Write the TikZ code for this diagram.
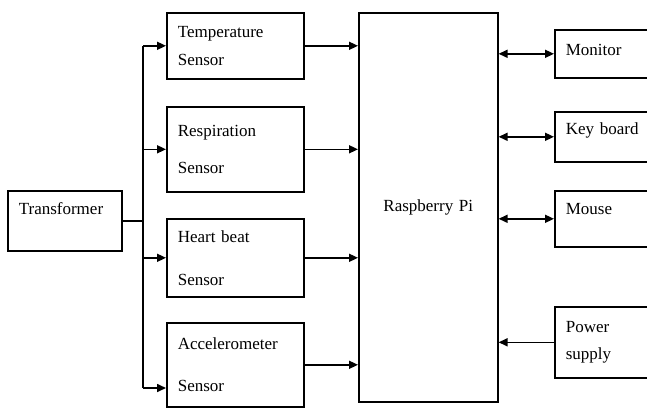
\documentclass[tikz,border=0pt]{standalone}
\usepackage{fontspec}
\setmainfont{Liberation Serif}
\usetikzlibrary{arrows.meta, positioning}

\begin{document}
\begin{tikzpicture}[x=1pt, y=-1pt, >={Triangle[length=9pt, width=8pt]}, line width=1.6pt,
    blk/.style={draw, anchor=north west, inner xsep=11pt, inner ysep=0pt, align=left, font=\fontsize{17}{20}\selectfont}]
    % Frame of the picture
    \clip (0,0) rectangle (647,407);
    \fill[white] (0,0) rectangle (647,407);

    % Supply and sensor blocks
    \node[blk, text width=92pt, minimum height=60pt, text height=12pt, text depth=24pt] (trans) at (7,190) {Transformer};
    \node[blk, text width=115pt, minimum height=66pt] (temp) at (166,12) {Temperature\\[8pt]Sensor};
    \node[blk, text width=115pt, minimum height=85pt] (resp) at (166,106) {Respiration\\[17pt]Sensor};
    \node[blk, text width=115pt, minimum height=78pt] (heart) at (166,218) {Heart beat\\[23pt]Sensor};
    \node[blk, text width=115pt, minimum height=84pt] (accel) at (166,322) {Accelerometer\\[22pt]Sensor};

    % Controller
    \node[blk, align=center, text width=117pt, minimum height=389pt] (pi) at (358,12) {Raspberry Pi};

    % Peripherals (cut by the right edge)
    \node[blk, text width=98pt, minimum height=48pt, text height=12pt, text depth=8pt] (mon) at (554,29) {Monitor};
    \node[blk, text width=98pt, minimum height=50pt, text height=12pt, text depth=16pt] (key) at (554,111) {Key board};
    \node[blk, text width=98pt, minimum height=56pt, text height=12pt, text depth=20pt] (mouse) at (554,190) {Mouse};
    \node[blk, text width=98pt, minimum height=71pt] (power) at (554,306) {Power\\[7pt]supply};

    % Bus from the transformer
    \coordinate (bus) at (143,0);
    \coordinate (busend) at (143,388);
    \draw (trans.east) -- (trans.east -| bus);
    \draw (bus |- temp.west) -- (busend);
    \draw[->] (bus |- temp.west) -- (temp.west);
    \draw[->] (bus |- resp.west) -- (resp.west);
    \draw[->] (bus |- heart.west) -- (heart.west);
    \draw[->] (busend) -- (busend -| accel.west);

    % Sensors into the Pi
    \foreach \s in {temp, resp, heart, accel}
        \draw[->] (\s.east) -- (\s.east -| pi.west);

    % Pi and peripherals
    \foreach \d in {mon, key, mouse}
        \draw[<->] (pi.east |- \d.west) -- (\d.west);
    \draw[->] (power.west) -- (power.west -| pi.east);
\end{tikzpicture}
\end{document}
